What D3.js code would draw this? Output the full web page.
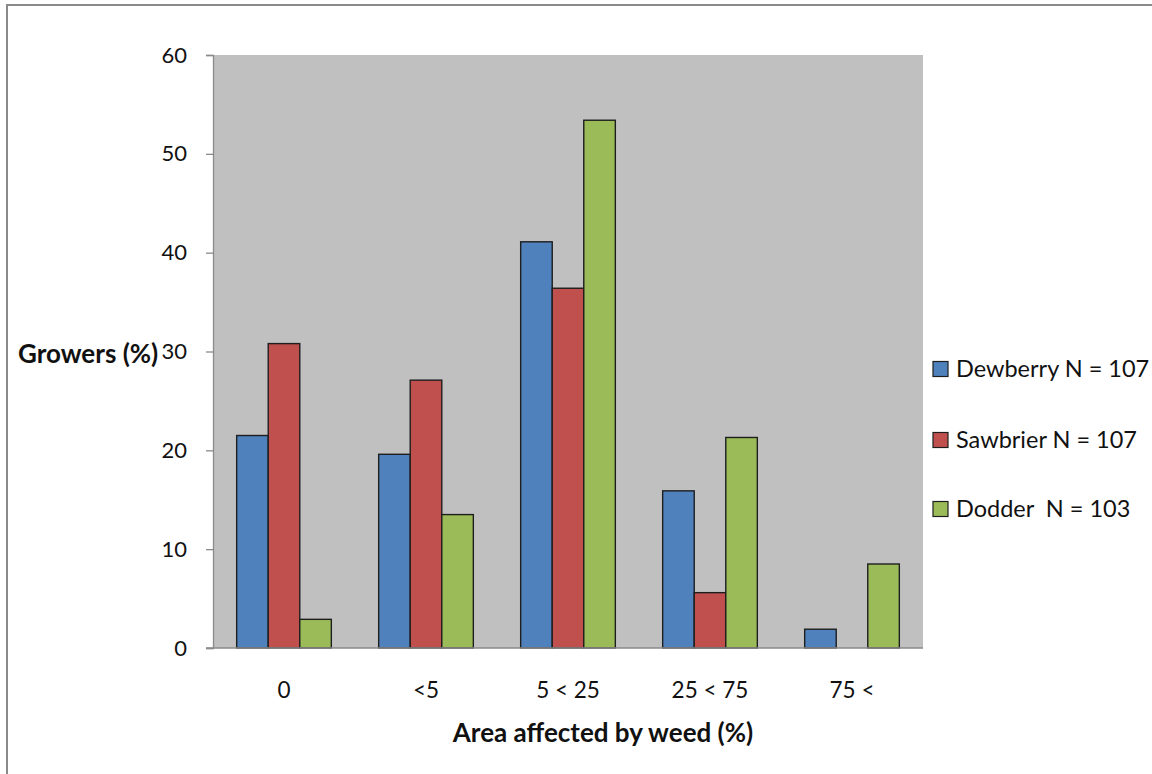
<!DOCTYPE html>
<html>
<head>
<meta charset="utf-8">
<script src="https://cdn.jsdelivr.net/npm/d3@7"></script>
<style>
  html, body { margin: 0; padding: 0; background: #fff; }
  svg { display: block; }
  text { font-family: Lato, "Open Sans", sans-serif; fill: #111; }
</style>
</head>
<body>
<svg id="chart" width="1152" height="774"></svg>
<script>
// Share of growers by weed-affected area class
const categories = ["0", "<5", "5 < 25", "25 < 75", "75 <"];
const seriesNames = ["Dewberry N = 107", "Sawbrier N = 107", "Dodder  N = 103"];
const dewberry = [21.5, 19.6, 41.1, 15.9, 1.9];
const sawbrier = [30.8, 27.1, 36.4, 5.6, 0];
const dodder   = [2.9, 13.5, 53.4, 21.3, 8.5];
const yTicks = [0, 10, 20, 30, 40, 50, 60];
const colors = ["#4F81BD", "#C0504D", "#9BBB59"];

const seriesValues = [dewberry, sawbrier, dodder];

const svg = d3.select("#chart");

// outer frame (only top and left edges fall inside the page)
svg.append("rect")
  .attr("x", 7).attr("y", 5)
  .attr("width", 1200).attr("height", 800)
  .attr("fill", "none")
  .attr("stroke", "#8a8a8a")
  .attr("stroke-width", 2);

const plot = { left: 213, right: 923, top: 55, bottom: 648 };

const x0 = d3.scaleBand()
  .domain(categories)
  .range([plot.left, plot.right])
  .padding(0);

const x1 = d3.scaleBand()
  .domain(seriesNames)
  .range([0, x0.bandwidth()])
  .paddingInner(0)
  .paddingOuter(0.75);

const y = d3.scaleLinear()
  .domain([0, 60])
  .range([plot.bottom, plot.top]);

// plot area background
svg.append("rect")
  .attr("x", plot.left).attr("y", plot.top)
  .attr("width", plot.right - plot.left)
  .attr("height", plot.bottom - plot.top)
  .attr("fill", "#C0C0C0");

// bars
const rows = [];
categories.forEach((c, i) => {
  seriesNames.forEach((s, j) => {
    rows.push({ cat: c, series: s, v: seriesValues[j][i], color: colors[j] });
  });
});

svg.append("g")
  .selectAll("rect")
  .data(rows.filter(d => d.v > 0))
  .join("rect")
  .attr("x", d => x0(d.cat) + x1(d.series))
  .attr("y", d => y(d.v))
  .attr("width", x1.bandwidth())
  .attr("height", d => y(0) - y(d.v))
  .attr("fill", d => d.color)
  .attr("stroke", "#1e1e1e")
  .attr("stroke-width", 1.4);

// y axis
const yAxis = d3.axisLeft(y)
  .tickValues(yTicks)
  .tickSize(7)
  .tickPadding(19)
  .tickFormat(d3.format("d"));

const gy = svg.append("g")
  .attr("transform", `translate(${plot.left},0)`)
  .call(yAxis);
gy.select(".domain").attr("stroke", "#8a8a8a").attr("stroke-width", 1.3);
gy.selectAll(".tick line").attr("stroke", "#8a8a8a").attr("stroke-width", 1.3);
gy.selectAll(".tick text")
  .style("font-family", "Lato, sans-serif")
  .style("font-size", "22px")
  .attr("fill", "#1a1a1a");

// x axis
const xAxis = d3.axisBottom(x0)
  .tickSize(0)
  .tickPadding(34)
  .tickSizeOuter(0);

const gx = svg.append("g")
  .attr("transform", `translate(0,${plot.bottom})`)
  .call(xAxis);
gx.select(".domain").remove();
gx.append("line")
  .attr("x1", plot.left - 7).attr("x2", plot.right)
  .attr("y1", 0).attr("y2", 0)
  .attr("stroke", "#8a8a8a").attr("stroke-width", 1.6);
gx.selectAll(".tick text")
  .style("font-family", "Lato, sans-serif")
  .style("font-size", "22.5px")
  .attr("fill", "#1a1a1a");

// axis titles
svg.append("text")
  .attr("x", 603)
  .attr("y", 742)
  .attr("text-anchor", "middle")
  .style("font-size", "26px")
  .style("font-weight", "bold")
  .text("Area affected by weed (%)");

svg.append("text")
  .attr("x", 18)
  .attr("y", 363)
  .style("font-size", "26px")
  .style("font-weight", "bold")
  .text("Growers (%)");

// legend
const legend = svg.append("g");
const legendY = [369, 440, 509];
seriesNames.forEach((s, j) => {
  const g = legend.append("g").attr("transform", `translate(933,${legendY[j]})`);
  g.append("rect")
    .attr("x", 0).attr("y", -7.5)
    .attr("width", 15).attr("height", 15)
    .attr("fill", colors[j])
    .attr("stroke", "#1e1e1e")
    .attr("stroke-width", 1.2);
  g.append("text")
    .attr("x", 23).attr("y", 0)
    .attr("dy", "0.36em")
    .attr("xml:space", "preserve")
    .style("white-space", "pre")
    .style("font-size", "23.5px")
    .attr("fill", "#1a1a1a")
    .text(s);
});
</script>
</body>
</html>
